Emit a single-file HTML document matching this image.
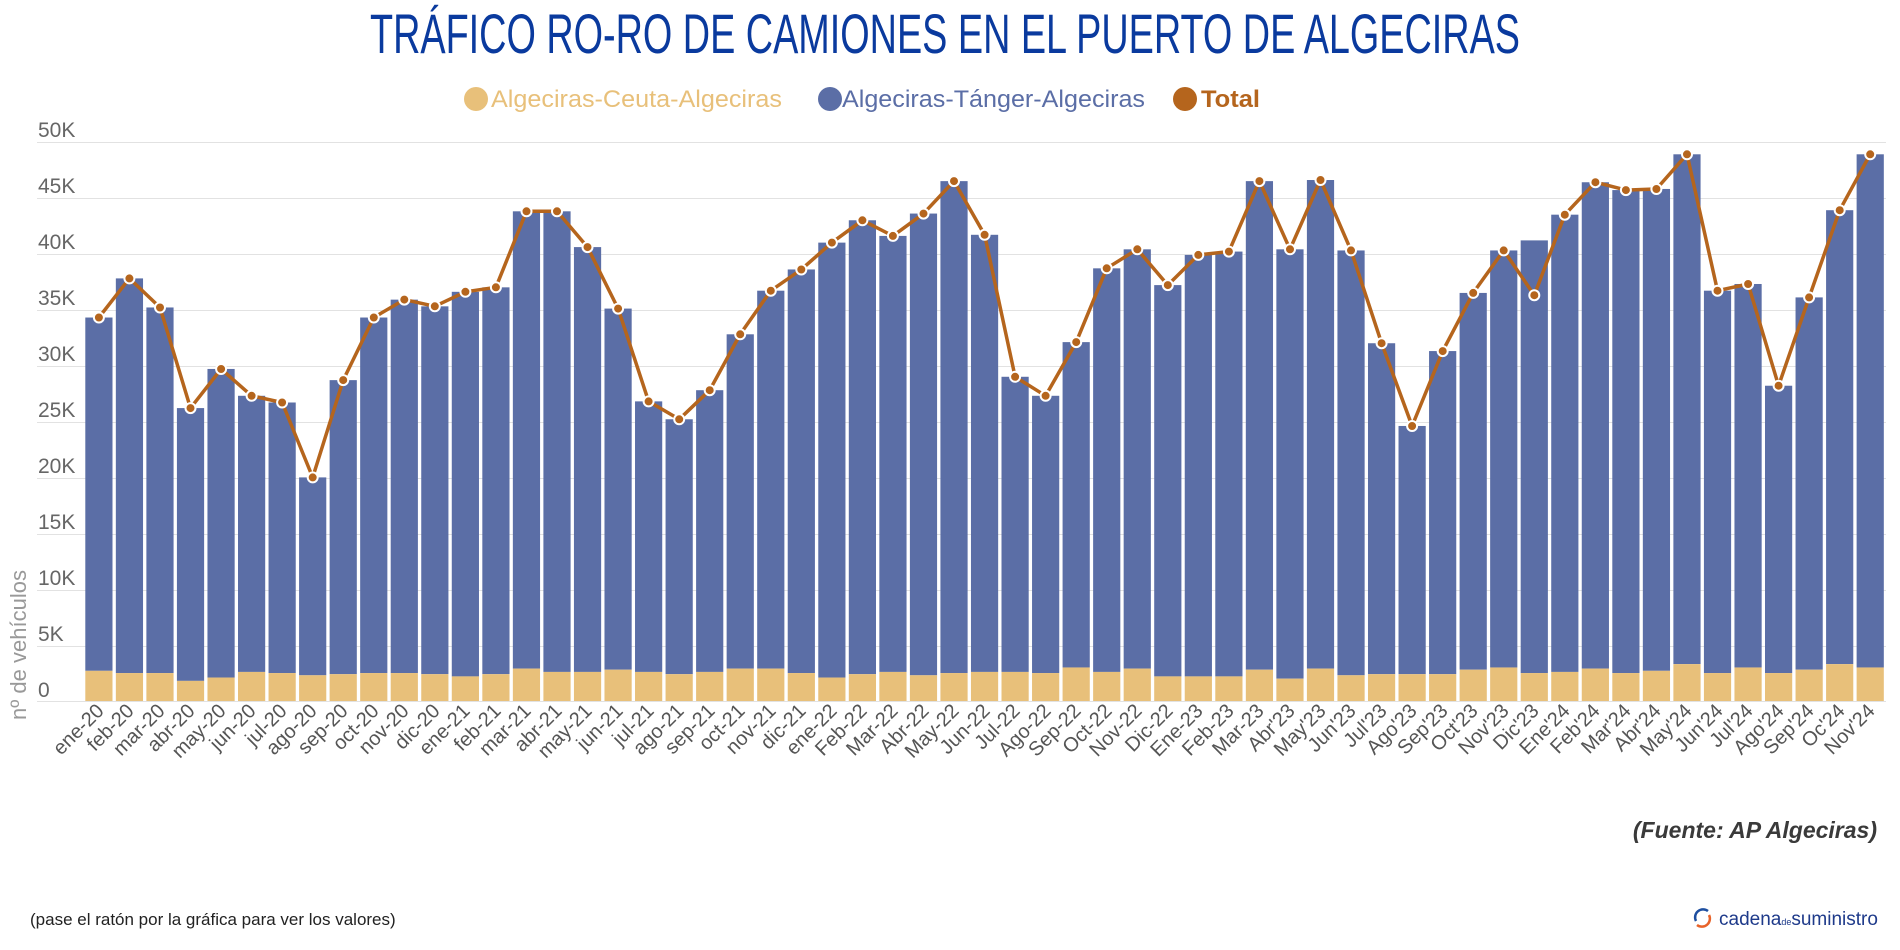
<!DOCTYPE html>
<html><head><meta charset="utf-8"><style>
html,body{margin:0;padding:0;background:#fff;}
svg{display:block;font-family:"Liberation Sans",sans-serif;}
</style></head><body>
<svg id="c" width="1900" height="950" viewBox="0 0 1900 950" xmlns="http://www.w3.org/2000/svg">
<text x="945" y="53" text-anchor="middle" font-size="56" fill="#0a3a9e" textLength="1150" lengthAdjust="spacingAndGlyphs">TRÁFICO RO-RO DE CAMIONES EN EL PUERTO DE ALGECIRAS</text>
<circle cx="476" cy="99" r="12" fill="#e8c07a"/>
<text x="491" y="107" font-size="24" fill="#e8c07a" textLength="291" lengthAdjust="spacingAndGlyphs">Algeciras-Ceuta-Algeciras</text>
<circle cx="830" cy="99" r="12" fill="#5b6ea6"/>
<text x="842" y="107" font-size="24" fill="#5b6ea6" textLength="303" lengthAdjust="spacingAndGlyphs">Algeciras-Tánger-Algeciras</text>
<circle cx="1185" cy="99" r="12" fill="#b5651d"/>
<text x="1201" y="107" font-size="24" font-weight="bold" fill="#b5651d" textLength="59" lengthAdjust="spacingAndGlyphs">Total</text>
<g stroke="#e2e2e2" stroke-width="1">
<line x1="37" x2="1886" y1="142.5" y2="142.5"/><line x1="37" x2="1886" y1="198.5" y2="198.5"/><line x1="37" x2="1886" y1="254.5" y2="254.5"/><line x1="37" x2="1886" y1="310.5" y2="310.5"/><line x1="37" x2="1886" y1="366.5" y2="366.5"/><line x1="37" x2="1886" y1="422.5" y2="422.5"/><line x1="37" x2="1886" y1="478.5" y2="478.5"/><line x1="37" x2="1886" y1="534.5" y2="534.5"/><line x1="37" x2="1886" y1="590.5" y2="590.5"/><line x1="37" x2="1886" y1="646.5" y2="646.5"/><line x1="37" x2="1886" y1="701.5" y2="701.5"/>
</g>
<g font-size="21" fill="#666">
<text x="38" y="137">50K</text><text x="38" y="193">45K</text><text x="38" y="249">40K</text><text x="38" y="305">35K</text><text x="38" y="361">30K</text><text x="38" y="417">25K</text><text x="38" y="473">20K</text><text x="38" y="529">15K</text><text x="38" y="585">10K</text><text x="38" y="641">5K</text><text x="38" y="697">0</text>
</g>
<text transform="translate(26,645) rotate(-90)" text-anchor="middle" font-size="22" fill="#999">nº de vehículos</text>
<g id="bars"></g>
<g id="line"></g>
<g font-size="20" fill="#555" text-anchor="end">
<text transform="translate(105,712) rotate(-45)">ene-20</text>
<text transform="translate(135,712) rotate(-45)">feb-20</text>
<text transform="translate(166,712) rotate(-45)">mar-20</text>
<text transform="translate(196,712) rotate(-45)">abr-20</text>
<text transform="translate(227,712) rotate(-45)">may-20</text>
<text transform="translate(257,712) rotate(-45)">jun-20</text>
<text transform="translate(288,712) rotate(-45)">jul-20</text>
<text transform="translate(318,712) rotate(-45)">ago-20</text>
<text transform="translate(349,712) rotate(-45)">sep-20</text>
<text transform="translate(380,712) rotate(-45)">oct-20</text>
<text transform="translate(410,712) rotate(-45)">nov-20</text>
<text transform="translate(441,712) rotate(-45)">dic-20</text>
<text transform="translate(471,712) rotate(-45)">ene-21</text>
<text transform="translate(502,712) rotate(-45)">feb-21</text>
<text transform="translate(532,712) rotate(-45)">mar-21</text>
<text transform="translate(563,712) rotate(-45)">abr-21</text>
<text transform="translate(593,712) rotate(-45)">may-21</text>
<text transform="translate(624,712) rotate(-45)">jun-21</text>
<text transform="translate(655,712) rotate(-45)">jul-21</text>
<text transform="translate(685,712) rotate(-45)">ago-21</text>
<text transform="translate(716,712) rotate(-45)">sep-21</text>
<text transform="translate(746,712) rotate(-45)">oct-21</text>
<text transform="translate(777,712) rotate(-45)">nov-21</text>
<text transform="translate(807,712) rotate(-45)">dic-21</text>
<text transform="translate(838,712) rotate(-45)">ene-22</text>
<text transform="translate(868,712) rotate(-45)">Feb-22</text>
<text transform="translate(899,712) rotate(-45)">Mar-22</text>
<text transform="translate(930,712) rotate(-45)">Abr-22</text>
<text transform="translate(960,712) rotate(-45)">May-22</text>
<text transform="translate(991,712) rotate(-45)">Jun-22</text>
<text transform="translate(1021,712) rotate(-45)">Jul-22</text>
<text transform="translate(1052,712) rotate(-45)">Ago-22</text>
<text transform="translate(1082,712) rotate(-45)">Sep-22</text>
<text transform="translate(1113,712) rotate(-45)">Oct-22</text>
<text transform="translate(1143,712) rotate(-45)">Nov-22</text>
<text transform="translate(1174,712) rotate(-45)">Dic-22</text>
<text transform="translate(1204,712) rotate(-45)">Ene-23</text>
<text transform="translate(1235,712) rotate(-45)">Feb-23</text>
<text transform="translate(1265,712) rotate(-45)">Mar-23</text>
<text transform="translate(1296,712) rotate(-45)">Abr'23</text>
<text transform="translate(1327,712) rotate(-45)">May'23</text>
<text transform="translate(1357,712) rotate(-45)">Jun'23</text>
<text transform="translate(1388,712) rotate(-45)">Jul'23</text>
<text transform="translate(1418,712) rotate(-45)">Ago'23</text>
<text transform="translate(1449,712) rotate(-45)">Sep'23</text>
<text transform="translate(1479,712) rotate(-45)">Oct'23</text>
<text transform="translate(1510,712) rotate(-45)">Nov'23</text>
<text transform="translate(1540,712) rotate(-45)">Dic'23</text>
<text transform="translate(1571,712) rotate(-45)">Ene'24</text>
<text transform="translate(1601,712) rotate(-45)">Feb'24</text>
<text transform="translate(1632,712) rotate(-45)">Mar'24</text>
<text transform="translate(1662,712) rotate(-45)">Abr'24</text>
<text transform="translate(1693,712) rotate(-45)">May'24</text>
<text transform="translate(1724,712) rotate(-45)">Jun'24</text>
<text transform="translate(1754,712) rotate(-45)">Jul'24</text>
<text transform="translate(1785,712) rotate(-45)">Ago'24</text>
<text transform="translate(1815,712) rotate(-45)">Sep'24</text>
<text transform="translate(1846,712) rotate(-45)">Oc'24</text>
<text transform="translate(1876,712) rotate(-45)">Nov'24</text>
</g>
<text x="1877" y="838" text-anchor="end" font-size="23" font-style="italic" font-weight="bold" fill="#3a3a3a">(Fuente: AP Algeciras)</text>
<text x="30" y="925" font-size="17" fill="#222">(pase el ratón por la gráfica para ver los valores)</text>
<g transform="translate(1702,918)">
<path d="M6,-7 A8,8 0 0 0 -6,3" fill="none" stroke="#1e4fa0" stroke-width="2.5"/>
<path d="M-5,7 A8,8 0 0 0 7,-3" fill="none" stroke="#e8632a" stroke-width="2.5"/>
</g>
<text x="1719" y="925" font-size="19" fill="#1e3a8a">cadena<tspan font-size="9">de</tspan>suministro</text>
</svg>
<script>
var tot=[34.3,37.8,35.2,26.2,29.7,27.3,26.7,20.0,28.7,34.3,35.9,35.3,36.6,37.0,43.8,43.8,40.6,35.1,26.8,25.2,27.8,32.8,36.7,38.6,41.0,43.0,41.6,43.6,46.5,41.7,29.0,27.3,32.1,38.7,40.4,37.2,39.9,40.2,46.5,40.4,46.6,40.3,32.0,24.6,31.3,36.5,40.3,36.3,43.5,46.4,45.7,45.8,48.9,36.7,37.3,28.2,36.1,43.9,48.9];
var bar=tot.slice();bar[47]=41.2;
var ce=[2.7,2.5,2.5,1.8,2.1,2.6,2.5,2.3,2.4,2.5,2.5,2.4,2.2,2.4,2.9,2.6,2.6,2.8,2.6,2.4,2.6,2.9,2.9,2.5,2.1,2.4,2.6,2.3,2.5,2.6,2.6,2.5,3.0,2.6,2.9,2.2,2.2,2.2,2.8,2.0,2.9,2.3,2.4,2.4,2.4,2.8,3.0,2.5,2.6,2.9,2.5,2.7,3.3,2.5,3.0,2.5,2.8,3.3,3.0];
var NS="http://www.w3.org/2000/svg",y0=701,k=11.18;
function el(t,a,p){var e=document.createElementNS(NS,t);for(var n in a)e.setAttribute(n,a[n]);p.appendChild(e);return e;}
var gb=document.getElementById('bars'),gl=document.getElementById('line');var pts=[];
for(var i=0;i<tot.length;i++){var cx=98.9+30.54*i;
el('rect',{x:cx-13.6,width:27.2,y:y0-bar[i]*k,height:(bar[i]-ce[i])*k,fill:'#5b6ea6'},gb);
el('rect',{x:cx-13.6,width:27.2,y:y0-ce[i]*k,height:ce[i]*k,fill:'#e8c07a'},gb);
pts.push(cx.toFixed(1)+','+(y0-tot[i]*k).toFixed(1));}
el('polyline',{points:pts.join(' '),fill:'none',stroke:'#b5651d','stroke-width':3.5,'stroke-linejoin':'round'},gl);
pts.forEach(function(p){var q=p.split(',');el('circle',{cx:q[0],cy:q[1],r:5,fill:'#b5651d',stroke:'#fff','stroke-width':2},gl);});
</script>
</body></html>
